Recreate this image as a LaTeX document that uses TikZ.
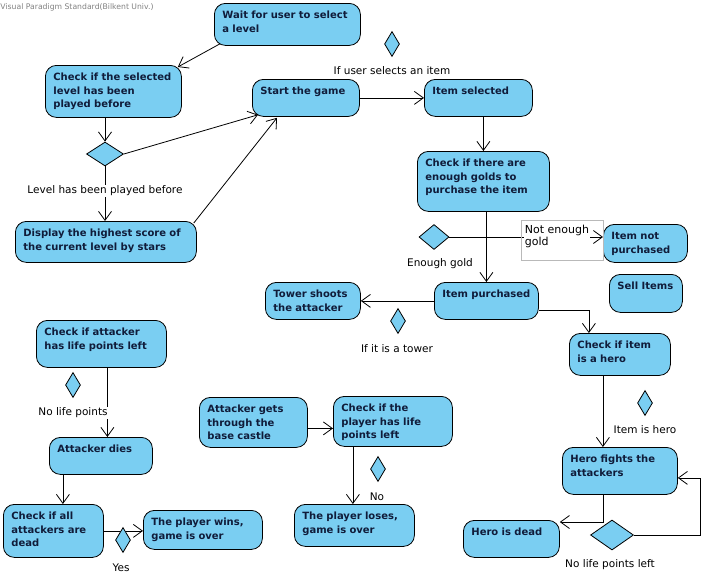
\documentclass[tikz,border=0pt]{standalone}
\usepackage{fontspec}
\setmainfont{DejaVu Sans}
\usetikzlibrary{shapes.geometric,arrows.meta,calc}
\definecolor{actfill}{RGB}{122,206,242}
\definecolor{acttext}{RGB}{16,28,58}
\definecolor{wmgray}{RGB}{130,130,130}
\newcommand\actbox[6]{%
  \pgfmathsetmacro\actw{#4-#2}%
  \pgfmathsetmacro\acth{#5-#3}%
  \pgfmathsetmacro\acttw{#4-#2-16}%
  \pgfmathsetmacro\acttd{#5-#3-12-9.5}%
  \node[act, anchor=north west, minimum width=\actw pt, minimum height=\acth pt,
        text width=\acttw pt, text depth=\acttd pt] (#1) at (#2,#3) {#6};}
\tikzset{
  act/.style={draw=black, fill=actfill, rounded corners=11pt, inner xsep=8pt, inner ysep=6pt,
    text height=9.5pt, align=left, font=\fontsize{10}{13.5}\selectfont\bfseries, text=acttext},
  dec/.style={diamond, draw=black, fill=actfill, inner sep=0pt},
  lbl/.style={font=\fontsize{10.5}{12}\selectfont, text=black, inner sep=1pt},
  conn/.style={draw, ->},
}
\begin{document}
\begin{tikzpicture}[x=1pt,y=-1pt,line width=0.8pt,>={Straight Barb[length=9pt,width=13pt]}]
\fill[white] (0,0) rectangle (703,579);
\useasboundingbox (0,0) rectangle (703,579);
\node[anchor=west, font=\fontsize{7.7}{8.5}\selectfont, text=wmgray, inner sep=0pt] (wm) at (0,7) {Visual Paradigm Standard(Bilkent Univ.)};

% activities
\actbox{wait}{214}{3}{360}{45}{Wait for user to select\\a level}
\actbox{cksel}{45}{65}{181}{117}{Check if the selected\\level has been\\played before}
\actbox{start}{252}{79}{359}{116}{Start the game}
\actbox{itemsel}{424}{79}{532}{116}{Item selected}
\actbox{ckgold}{417}{151}{549}{211}{Check if there are\\enough golds to\\purchase the item}
\actbox{notp}{603}{224}{687}{262}{Item not\\purchased}
\actbox{sell}{609}{274}{682}{312}{Sell Items}
\actbox{purch}{434}{282}{538}{319}{Item purchased}
\actbox{tower}{265}{282}{360}{319}{Tower shoots\\the attacker}
\actbox{ckhero}{569}{333}{670}{375}{Check if item\\is a hero}
\actbox{ckatt}{36}{320}{166}{367}{Check if attacker\\has life points left}
\actbox{dies}{49}{437}{152}{474}{Attacker dies}
\actbox{ckall}{3}{504}{103}{557}{Check if all\\attackers are\\dead}
\actbox{wins}{143}{510}{262}{549}{The player wins,\\game is over}
\actbox{gets}{199}{397}{307}{447}{Attacker gets\\through the\\base castle}
\actbox{ckpl}{333}{396}{452}{446}{Check if the\\player has life\\points left}
\actbox{loses}{294}{504}{414}{546}{The player loses,\\game is over}
\actbox{fights}{562}{447}{677}{494}{Hero fights the\\attackers}
\actbox{dead}{463}{520}{559}{557}{Hero is dead}
\actbox{disp}{15}{221}{196}{262}{Display the highest score of\\the current level by stars}

% decisions
\node[dec, minimum width=37pt, minimum height=24pt] (d1) at (105,154) {};
\node[dec, minimum width=15pt, minimum height=25pt] (d2) at (392,44) {};
\node[dec, minimum width=30pt, minimum height=25pt] (d3) at (434,237) {};
\node[dec, minimum width=15pt, minimum height=25pt] (d4) at (398,321) {};
\node[dec, minimum width=15pt, minimum height=25pt] (d5) at (645,403) {};
\node[dec, minimum width=43pt, minimum height=30pt] (d6) at (612,535) {};
\node[dec, minimum width=15pt, minimum height=25pt] (d7) at (73,385) {};
\node[dec, minimum width=15pt, minimum height=25pt] (d9) at (378,469) {};

% connectors
\draw[conn] ([shift={(6,-2)}]wait.south west) -- ([shift={(-4,2)}]cksel.north east);
\draw[conn] (cksel.south -| d1.north) -- (d1.north);
\draw[conn] (d1.east) -- ([shift={(6,-2)}]start.south west);
\draw[conn] (d1.south) -- node[lbl, fill=white, pos=0.45] (lplayed) {Level has been played before} (d1.south |- disp.north);
\draw[conn] ([shift={(-3,2)}]disp.north east) -- ([shift={(25,1)}]start.south west);
\draw[conn] (start.east) -- (start.east -| itemsel.west);
\draw[conn] (itemsel.south -| ckgold.north) -- (ckgold.north);
\draw[conn] (ckgold.south -| purch.north) -- (purch.north);
\draw[conn] (d3.east) -- (d3.east -| notp.west);
\draw[conn] (purch.west) -- (purch.west -| tower.east);
\draw[conn] ([yshift=-9pt]purch.east) -| ([xshift=-31pt]ckhero.north);
\draw[conn] ([xshift=-17pt]ckhero.south) -- ([xshift=-17pt]fights.north);
\draw[conn] ([xshift=-17pt]fights.south) |- ([yshift=-2pt]dead.north east);
\draw[conn] (d6.east) -- ++(66,0) |- ([yshift=-7pt]fights.east);
\draw[conn] ([xshift=6pt]ckatt.south) -- ([xshift=6pt]ckatt.south |- dies.north);
\draw[conn] ([xshift=-38pt]dies.south) -- ([xshift=-38pt]dies.south |- ckall.north);
\draw[conn] (ckall.east) -- (ckall.east -| wins.west);
\draw[conn] ([yshift=-6pt]gets.east) -- ([yshift=-6pt]gets.east -| ckpl.west);
\draw[conn] ([xshift=-40pt]ckpl.south) -- ([xshift=-40pt]ckpl.south |- loses.north);

\node[dec, minimum width=15pt, minimum height=25pt] (d8) at (123,540) {};

% not enough gold box
\node[lbl, font=\fontsize{11}{12.5}\selectfont, anchor=north west, fill=white, inner sep=0.5pt, align=left] (netext) at (524,224) {Not enough\\gold};
\node[draw=gray!55, line width=0.6pt, anchor=north west, minimum width=82pt, minimum height=40pt, inner sep=0pt] (nebox) at (521,220) {};

% labels
\node[lbl] (lsel) at (392,71) {If user selects an item};
\node[lbl] (lenough) at (440,264) {Enough gold};
\node[lbl] (ltower) at (397,349) {If it is a tower};
\node[lbl] (lhero) at (645,430) {Item is hero};
\node[lbl, fill=white] (lnolife) at (73,413) {No life points};
\node[lbl] (lyes) at (121,568) {Yes};
\node[lbl] (lno) at (377,497) {No};
\node[lbl] (lnoleft) at (610,565) {No life points left};
\end{tikzpicture}
\end{document}
